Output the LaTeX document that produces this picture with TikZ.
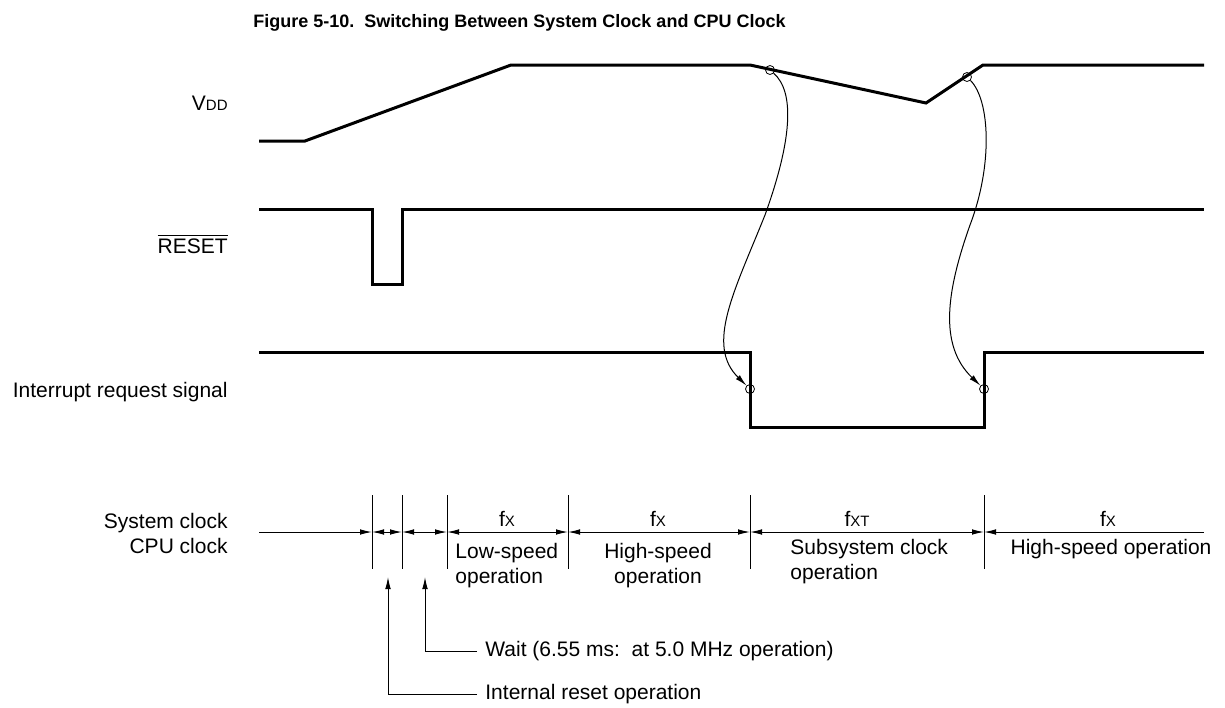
\documentclass[tikz,border=0pt]{standalone}
\usepackage{amsmath}
\usepackage{fontspec}
\setmainfont{Liberation Sans}
\usetikzlibrary{arrows.meta}
\tikzset{
    signal/.style={line width=1.5pt, line join=miter},
    tickline/.style={line width=0.5pt},
    dimline/.style={line width=0.5pt, >={Latex[length=6pt,width=2.8pt]}},
    txt/.style={font=\fontsize{10.5}{12.5}\selectfont, inner sep=0pt},
    marker/.style={circle, draw, line width=0.4pt, minimum size=4.5pt, inner sep=0pt},
    bendarrow/.style={line width=0.5pt, -{Latex[length=6pt,width=2.8pt]}}
}
\newcommand{\idx}[1]{{\fontsize{7.5}{8}\selectfont #1}}

\begin{document}
\begin{tikzpicture}[x=0.5pt, y=-0.5pt]
    \useasboundingbox (0,0) rectangle (1225,707);
    \node (title) [txt, font=\bfseries\fontsize{9}{11}\selectfont, anchor=base west] at (253,27) {Figure 5-10.\ \ Switching Between System Clock and CPU Clock};

    % signal names
    \node (vdd) [txt, anchor=base east] at (228,110) {V\idx{DD}};
    \node (rst) [txt, anchor=base east] at (228,253) {$\overline{\mbox{RESET}}$};
    \node (irq) [txt, anchor=base east] at (228,397) {Interrupt request signal};
    \node (clk) [txt, anchor=base east, align=right] at (228,553) {System clock\\CPU clock};

    % waveforms
    \draw [signal] (259,141) -- (305,141) -- (511,65) -- (750,65) -- (926,103) -- (983,65) -- (1204,65);
    \draw [signal] (259,209) -- (372,209) -- (372,284) -- (402,284) -- (402,209) -- (1204,209);
    \draw [signal] (259,352) -- (750,352) -- (750,427) -- (984,427) -- (984,352) -- (1204,352);

    % switching points
    \node (c1) [marker] at (770,70) {};
    \node (c2) [marker] at (967,77) {};
    \node (c3) [marker] at (750,389) {};
    \node (c4) [marker] at (984,389) {};
    \draw [bendarrow] (c1) .. controls (795,92) and (792,140) .. (765,215) .. controls (735,290) and (705,345) .. (c3);
    \draw [bendarrow] (c2) .. controls (990,100) and (993,165) .. (970,225) .. controls (947,290) and (938,345) .. (c4);

    % clock time line
    \coordinate (clkl) at (259,532);
    \coordinate (clkr) at (1204,532);
    \foreach \x [count=\i] in {372,402,447,568,750,984} {
        \coordinate (t\i) at (\x,532);
        \draw [tickline] (\x,495) -- (\x,569);
    }
    \draw [dimline, ->] (clkl) -- (t1);
    \foreach \a/\b in {t1/t2, t2/t3, t3/t4, t4/t5, t5/t6}
        \draw [dimline, <->] (\a) -- (\b);
    \draw [dimline, <-] (t6) -- (clkr);

    \node (f1) [txt, anchor=base] at (507,526) {f\idx{X}};
    \node (f2) [txt, anchor=base] at (658,526) {f\idx{X}};
    \node (f3) [txt, anchor=base] at (857,526) {f\idx{XT}};
    \node (f4) [txt, anchor=base] at (1108,526) {f\idx{X}};
    \node (op1) [txt, anchor=base west, align=left] at (455,583) {Low-speed\\operation};
    \node (op2) [txt, anchor=base, align=center] at (658,583) {High-speed\\operation};
    \node (op3) [txt, anchor=base west, align=left] at (790,579) {Subsystem clock\\operation};
    \node (op4) [txt, anchor=base] at (1111,554) {High-speed operation};

    % notes
    \coordinate (rsttip) at (388,577);
    \coordinate (waittip) at (425,577);
    \node (waitlbl) [txt, anchor=west, inner xsep=4pt] at (477,651) {Wait (6.55 ms:\ \ at 5.0 MHz operation)};
    \node (rstlbl) [txt, anchor=west, inner xsep=4pt] at (477,694) {Internal reset operation};
    \draw [dimline, ->] (waitlbl.west) -| (waittip);
    \draw [dimline, ->] (rstlbl.west) -| (rsttip);
\end{tikzpicture}
\end{document}
